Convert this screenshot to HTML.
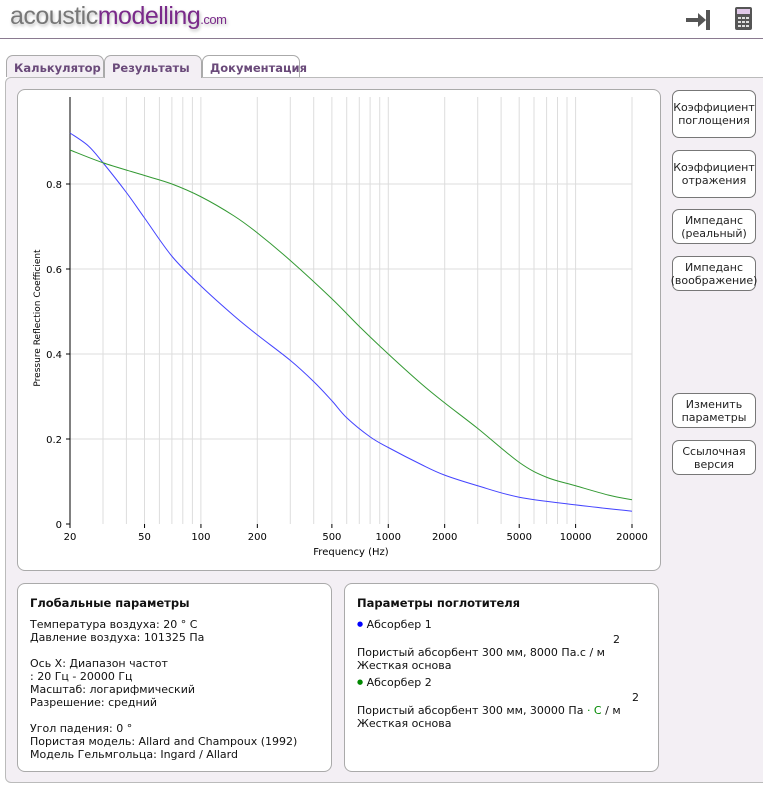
<!DOCTYPE html>
<html><head><meta charset="utf-8"><style>
body{margin:0;width:763px;height:787px;background:#fff;font-family:"DejaVu Sans","Liberation Sans",sans-serif;font-size:11px;color:#111;position:relative;overflow:hidden}
.abs{position:absolute}
.logo{left:10px;top:2px;font-size:25px;letter-spacing:-0.5px;color:#777;font-family:"Liberation Sans",sans-serif;text-shadow:1px 2px 3px #bbb}
.logo b{font-weight:normal;color:#7a2a8a}
.logo small{font-size:13px;color:#7a2a8a}
.hr{left:0;top:38px;width:763px;height:1px;background:#8a7a90}
.tab{top:55px;height:22px;border:1px solid #aaa;border-bottom:none;border-radius:7px 7px 0 0;background:#fff;font-weight:bold;color:#6a4a7a;font-size:11.5px;line-height:24px;padding-left:7px;box-sizing:border-box}
.panel{left:5px;top:77px;width:770px;height:706px;background:#f3eff4;border:1px solid #bbb;border-radius:6px;box-sizing:border-box}
.box{background:#fff;border:1px solid #aaa;border-radius:8px;box-sizing:border-box}
.btn{left:672px;width:84px;background:#fff;border:1px solid #777;border-radius:7px;box-sizing:border-box;text-align:center;font-size:11px;line-height:13px;display:flex;align-items:center;justify-content:center;color:#222}
.txt{line-height:13px;font-size:11px}
h4{margin:0 0 8px 0;font-size:11.5px}
.dot{font-size:7px;vertical-align:2px}
</style></head><body>
<div class="abs logo">acoustic<b>modelling</b><small>.com</small></div>
<svg class="abs" style="left:684px;top:8px" width="28" height="24"><path d="M2 10h12v-5l8 7-8 7v-5H2z" fill="#555"/><rect x="22" y="2" width="4" height="20" fill="#555"/></svg>
<svg class="abs" style="left:735px;top:7px" width="18" height="24"><rect x="0" y="0" width="17" height="23" rx="2" fill="#555"/><rect x="2" y="2" width="13" height="5" fill="#e0c8e8"/><g fill="#ddd"><rect x="3" y="10" width="3" height="2"/><rect x="7" y="10" width="3" height="2"/><rect x="11" y="10" width="3" height="2"/><rect x="3" y="14" width="3" height="2"/><rect x="7" y="14" width="3" height="2"/><rect x="11" y="14" width="3" height="2"/><rect x="3" y="18" width="3" height="2"/><rect x="7" y="18" width="3" height="2"/><rect x="11" y="18" width="3" height="2"/></g></svg>
<div class="abs hr"></div>
<div class="abs panel"></div>
<div class="abs tab" style="left:6px;width:98px;background:#f3eff4">Калькулятор</div>
<div class="abs tab" style="left:104px;width:98px;background:#f3eff4;height:23px">Результаты</div>
<div class="abs tab" style="left:202px;width:98px;background:#fff">Документация</div>
<div class="abs box" style="left:17px;top:89px;width:644px;height:482px"></div>
<svg class="abs" style="left:0;top:0" width="763" height="600" id="ch"></svg>
<div class="abs btn" style="top:90px;height:48px">Коэффициент<br>поглощения</div>
<div class="abs btn" style="top:150px;height:48px">Коэффициент<br>отражения</div>
<div class="abs btn" style="top:209px;height:35px">Импеданс<br>(реальный)</div>
<div class="abs btn" style="top:256px;height:35px">Импеданс<br>(воображение)</div>
<div class="abs btn" style="top:393px;height:35px">Изменить<br>параметры</div>
<div class="abs btn" style="top:440px;height:35px">Ссылочная<br>версия</div>
<div class="abs box txt" style="left:17px;top:583px;width:315px;height:189px;padding:13px 12px">
<h4>Глобальные параметры</h4>
Температура воздуха: 20 ° C<br>Давление воздуха: 101325 Па<br><br>Ось X: Диапазон частот<br>: 20 Гц - 20000 Гц<br>Масштаб: логарифмический<br>Разрешение: средний<br><br>Угол падения: 0 °<br>Пористая модель: Allard and Champoux (1992)<br>Модель Гельмгольца: Ingard / Allard</div>
<div class="abs box txt" style="left:344px;top:583px;width:315px;height:189px;padding:13px 12px">
<h4>Параметры поглотителя</h4>
<span class="dot" style="color:#00f">●</span> Абсорбер 1<br>
<div style="padding-left:256px;margin-top:2px">2</div>
Пористый абсорбент 300 мм, 8000 Па.с / м<br>Жесткая основа<br>
<div style="margin-top:4px"><span class="dot" style="color:#080">●</span> Абсорбер 2</div>
<div style="padding-left:275px;margin-top:2px">2</div>
Пористый абсорбент 300 мм, 30000 Па <span style="color:#080">· C</span> / м<br>Жесткая основа</div>
<script>
var s='',X0=70,X1=632,Y0=524,K=425;
function fx(f){return X0+(Math.log10(f)-Math.log10(20))*(X1-X0)/3}
function fy(v){return Y0-v*K}
var lines=[20,30,40,50,60,70,80,90,100,200,300,400,500,600,700,800,900,1000,2000,3000,4000,5000,6000,7000,8000,9000,10000,20000];
lines.forEach(function(f){var x=fx(f).toFixed(1);s+='<line x1="'+x+'" y1="97" x2="'+x+'" y2="524" stroke="#ddd"/>';});
[0.2,0.4,0.6,0.8].forEach(function(v){var y=fy(v);s+='<line x1="70" y1="'+y+'" x2="632" y2="'+y+'" stroke="#ddd"/>';s+='<text x="62" y="'+(y+4)+'" text-anchor="end" font-size="10">'+v+'</text><line x1="66" x2="70" y1="'+y+'" y2="'+y+'" stroke="#000"/>';});
s+='<text x="62" y="528" text-anchor="end" font-size="10">0</text><line x1="66" x2="70" y1="524" y2="524" stroke="#000"/>';
s+='<line x1="70" y1="97" x2="70" y2="524" stroke="#000"/>';
[20,50,100,200,500,1000,2000,5000,10000,20000].forEach(function(f){var x=fx(f);s+='<line x1="'+x+'" x2="'+x+'" y1="524" y2="528" stroke="#000"/><text x="'+x+'" y="540" text-anchor="middle" font-size="10">'+f+'</text>';});
s+='<text x="351" y="555" text-anchor="middle" font-size="10">Frequency (Hz)</text>';
s+='<text transform="translate(40,318) rotate(-90)" text-anchor="middle" font-size="9">Pressure Reflection Coefficient</text>';
function curve(pts,c){var P=pts.map(function(p){return [fx(p[0]),fy(p[1])]});var d='M'+P[0][0]+','+P[0][1];for(var i=0;i<P.length-1;i++){var p0=P[i-1]||P[i],p1=P[i],p2=P[i+1],p3=P[i+2]||P[i+1];var c1=[p1[0]+(p2[0]-p0[0])/6,p1[1]+(p2[1]-p0[1])/6],c2=[p2[0]-(p3[0]-p1[0])/6,p2[1]-(p3[1]-p1[1])/6];d+=' C'+c1.join(',')+' '+c2.join(',')+' '+p2.join(',');}s+='<path fill="none" stroke="'+c+'" stroke-width="1" d="'+d+'"/>';}
curve([[20,0.92],[25,0.89],[30,0.85],[40,0.78],[50,0.72],[70,0.63],[100,0.56],[150,0.49],[200,0.445],[300,0.385],[400,0.335],[500,0.29],[600,0.25],[800,0.205],[1000,0.18],[1500,0.14],[2000,0.115],[3000,0.09],[5000,0.063],[10000,0.045],[20000,0.03]],'#44f');
curve([[20,0.88],[30,0.85],[50,0.82],[70,0.80],[100,0.77],[150,0.725],[200,0.685],[300,0.62],[500,0.53],[700,0.465],[1000,0.40],[1500,0.33],[2000,0.285],[3000,0.225],[5000,0.145],[7000,0.11],[10000,0.09],[15000,0.068],[20000,0.057]],'#393');
document.getElementById('ch').innerHTML=s;
</script>
</body></html>
